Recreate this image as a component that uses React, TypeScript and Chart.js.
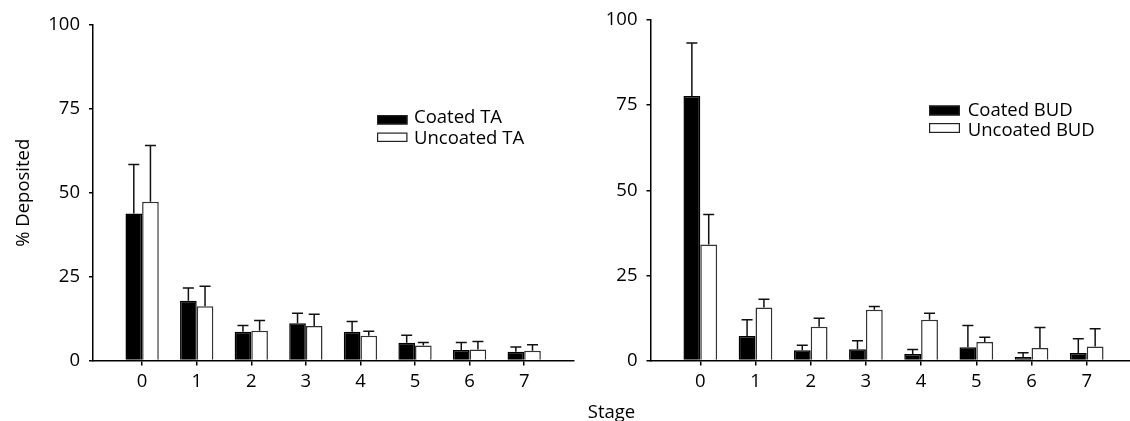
import React, { useEffect, useRef } from 'react';
import { Chart, registerables } from 'chart.js';

Chart.register(...registerables);

// ---------- data ----------
const stages = [0, 1, 2, 3, 4, 5, 6, 7];
const stageLabels = ['0', '1', '2', '3', '4', '5', '6', '7'];
const yTickValues = [0, 25, 50, 75, 100];

const coatedTA = [43.8, 17.8, 8.6, 11.1, 8.6, 5.3, 3.1, 2.6];
const coatedTASD = [14.6, 3.8, 1.8, 3.0, 3.0, 2.2, 2.3, 1.4];
const uncoatedTA = [47.3, 16.2, 8.9, 10.3, 7.4, 4.5, 3.3, 2.9];
const uncoatedTASD = [16.8, 5.9, 3.0, 3.5, 1.3, 0.9, 2.4, 1.8];

const coatedBUD = [77.7, 7.2, 3.0, 3.3, 1.9, 3.9, 1.0, 2.2];
const coatedBUDSD = [15.6, 4.8, 1.5, 2.5, 1.3, 6.4, 1.3, 4.2];
const uncoatedBUD = [34.1, 15.6, 9.9, 14.9, 12.0, 5.4, 3.7, 4.1];
const uncoatedBUDSD = [8.8, 2.4, 2.5, 1.0, 1.9, 1.4, 6.0, 5.2];

const FONT_FAMILY = "'Open Sans', 'DejaVu Sans', sans-serif";
const FONT_SIZE = 18.5;

// ---------- plugins ----------
const errorBarPlugin = {
  id: 'errorBars',
  afterDatasetsDraw(chart: any) {
    const ctx = chart.ctx;
    const yScale = chart.scales.y;
    chart.data.datasets.forEach((ds: any, di: number) => {
      const meta = chart.getDatasetMeta(di);
      const errs: number[] = ds.errors || [];
      meta.data.forEach((bar: any, i: number) => {
        const v = ds.data[i].y;
        const e = errs[i];
        if (e == null) return;
        const topPx = yScale.getPixelForValue(v + e);
        const x = bar.x;
        ctx.save();
        ctx.strokeStyle = '#111';
        ctx.lineWidth = 1.5;
        ctx.beginPath();
        ctx.moveTo(x, bar.y);
        ctx.lineTo(x, topPx);
        ctx.moveTo(x - 5.5, topPx);
        ctx.lineTo(x + 5.5, topPx);
        ctx.stroke();
        ctx.restore();
      });
    });
  },
};

const boxLegendPlugin = {
  id: 'boxLegend',
  afterDraw(chart: any, _args: any, opts: any) {
    if (!opts || !opts.display) return;
    const ctx = chart.ctx;
    ctx.save();
    ctx.font = `${FONT_SIZE}px ${FONT_FAMILY}`;
    ctx.textBaseline = 'alphabetic';
    ctx.textAlign = 'left';
    chart.data.datasets.forEach((ds: any, i: number) => {
      const by = opts.boxY[i];
      ctx.fillStyle = ds.backgroundColor;
      ctx.fillRect(opts.boxX, by, opts.boxW, opts.boxH);
      ctx.strokeStyle = '#222';
      ctx.lineWidth = 1.2;
      ctx.strokeRect(opts.boxX + 0.6, by + 0.6, opts.boxW - 1.2, opts.boxH - 1.2);
      ctx.fillStyle = '#000';
      ctx.fillText(ds.label, opts.textX, opts.textY[i]);
    });
    ctx.restore();
  },
};

const extraTextPlugin = {
  id: 'extraText',
  afterDraw(chart: any, _args: any, opts: any) {
    if (!opts || !opts.text) return;
    const ctx = chart.ctx;
    ctx.save();
    ctx.font = `${FONT_SIZE}px ${FONT_FAMILY}`;
    ctx.fillStyle = '#000';
    ctx.textAlign = 'center';
    ctx.textBaseline = 'alphabetic';
    ctx.fillText(opts.text, opts.x, opts.y);
    ctx.restore();
  },
};

// ---------- config builder ----------
function makeConfig(p: {
  coated: number[];
  coatedSD: number[];
  uncoated: number[];
  uncoatedSD: number[];
  coatedLabel: string;
  uncoatedLabel: string;
  xMin: number;
  xMax: number;
  yAxisWidth: number;
  padTop: number;
  padRight: number;
  yTitle?: string;
  legend: any;
  extraText?: any;
}) {
  const font = { family: FONT_FAMILY, size: FONT_SIZE };
  return {
    type: 'bar' as const,
    data: {
      datasets: [
        {
          label: p.coatedLabel,
          data: stages.map((s, i) => ({ x: s, y: p.coated[i] })),
          errors: p.coatedSD,
          backgroundColor: '#000',
          borderColor: '#000',
          borderWidth: 1.5,
        },
        {
          label: p.uncoatedLabel,
          data: stages.map((s, i) => ({ x: s, y: p.uncoated[i] })),
          errors: p.uncoatedSD,
          backgroundColor: '#fff',
          borderColor: '#333',
          borderWidth: 1.5,
        },
      ],
    },
    options: {
      animation: false,
      responsive: false,
      maintainAspectRatio: false,
      categoryPercentage: 0.61,
      barPercentage: 1,
      layout: { padding: { top: p.padTop, right: p.padRight, left: 0, bottom: 0 } },
      plugins: {
        legend: { display: false },
        tooltip: { enabled: false },
        boxLegend: p.legend,
        extraText: p.extraText || {},
      },
      scales: {
        x: {
          type: 'linear',
          min: p.xMin,
          max: p.xMax,
          offset: false,
          afterBuildTicks: (s: any) => {
            s.ticks = stages.map((v) => ({ value: v }));
          },
          afterFit: (s: any) => {
            s.height = 60.5;
          },
          ticks: {
            font,
            color: '#000',
            padding: 5,
            autoSkip: false,
            maxRotation: 0,
            callback: (_v: any, idx: number) => stageLabels[idx],
          },
          grid: {
            display: true,
            offset: false,
            drawOnChartArea: false,
            drawTicks: true,
            tickLength: 5,
            color: '#000',
            lineWidth: 1.5,
          },
          border: { display: true, color: '#000', width: 1.5 },
        },
        y: {
          type: 'linear',
          min: 0,
          max: 100,
          afterBuildTicks: (s: any) => {
            s.ticks = yTickValues.map((v) => ({ value: v }));
          },
          afterFit: (s: any) => {
            s.width = p.yAxisWidth;
          },
          ticks: { font, color: '#000', padding: 9 },
          grid: {
            display: true,
            drawOnChartArea: false,
            drawTicks: true,
            tickLength: 4,
            color: '#000',
            lineWidth: 1.5,
          },
          border: { display: true, color: '#000', width: 1.5 },
          title: {
            display: !!p.yTitle,
            text: p.yTitle || '',
            font,
            color: '#000',
            padding: { top: 13, bottom: 0 },
          },
        },
      },
    },
    plugins: [errorBarPlugin, boxLegendPlugin, extraTextPlugin],
  };
}

function ChartCanvas({ config, left, width, height }: { config: any; left: number; width: number; height: number }) {
  const ref = useRef<HTMLCanvasElement | null>(null);
  useEffect(() => {
    if (!ref.current) return;
    const chart = new Chart(ref.current, config);
    return () => chart.destroy();
  }, [config]);
  return (
    <canvas
      ref={ref}
      width={width}
      height={height}
      style={{ position: 'absolute', left, top: 0, width, height, display: 'block' }}
    />
  );
}

const leftConfig = makeConfig({
  coated: coatedTA,
  coatedSD: coatedTASD,
  uncoated: uncoatedTA,
  uncoatedSD: uncoatedTASD,
  coatedLabel: 'Coated TA',
  uncoatedLabel: 'Uncoated TA',
  xMin: -0.9,
  xMax: 7.9,
  yAxisWidth: 93,
  padTop: 25,
  padRight: 6.7,
  yTitle: '% Deposited',
  legend: { display: true, boxX: 377, boxW: 30.5, boxH: 9.5, boxY: [115, 132.5], textX: 414, textY: [123, 143.5] },
});

const rightConfig = makeConfig({
  coated: coatedBUD,
  coatedSD: coatedBUDSD,
  uncoated: uncoatedBUD,
  uncoatedSD: uncoatedBUDSD,
  coatedLabel: 'Coated BUD',
  uncoatedLabel: 'Uncoated BUD',
  xMin: -0.902,
  xMax: 7.784,
  yAxisWidth: 70.5,
  padTop: 20,
  padRight: 0,
  legend: { display: true, boxX: 349, boxW: 31, boxH: 10, boxY: [105.5, 123], textX: 387.7, textY: [115.5, 135.5] },
  extraText: { text: 'Stage', x: 31.5, y: 418 },
});

export default function App() {
  return (
    <div style={{ position: 'absolute', left: 0, top: 0, width: 1130, height: 421, background: '#fff', overflow: 'hidden' }}>
      <ChartCanvas config={leftConfig} left={0} width={580} height={421} />
      <ChartCanvas config={rightConfig} left={580} width={550} height={421} />
    </div>
  );
}
